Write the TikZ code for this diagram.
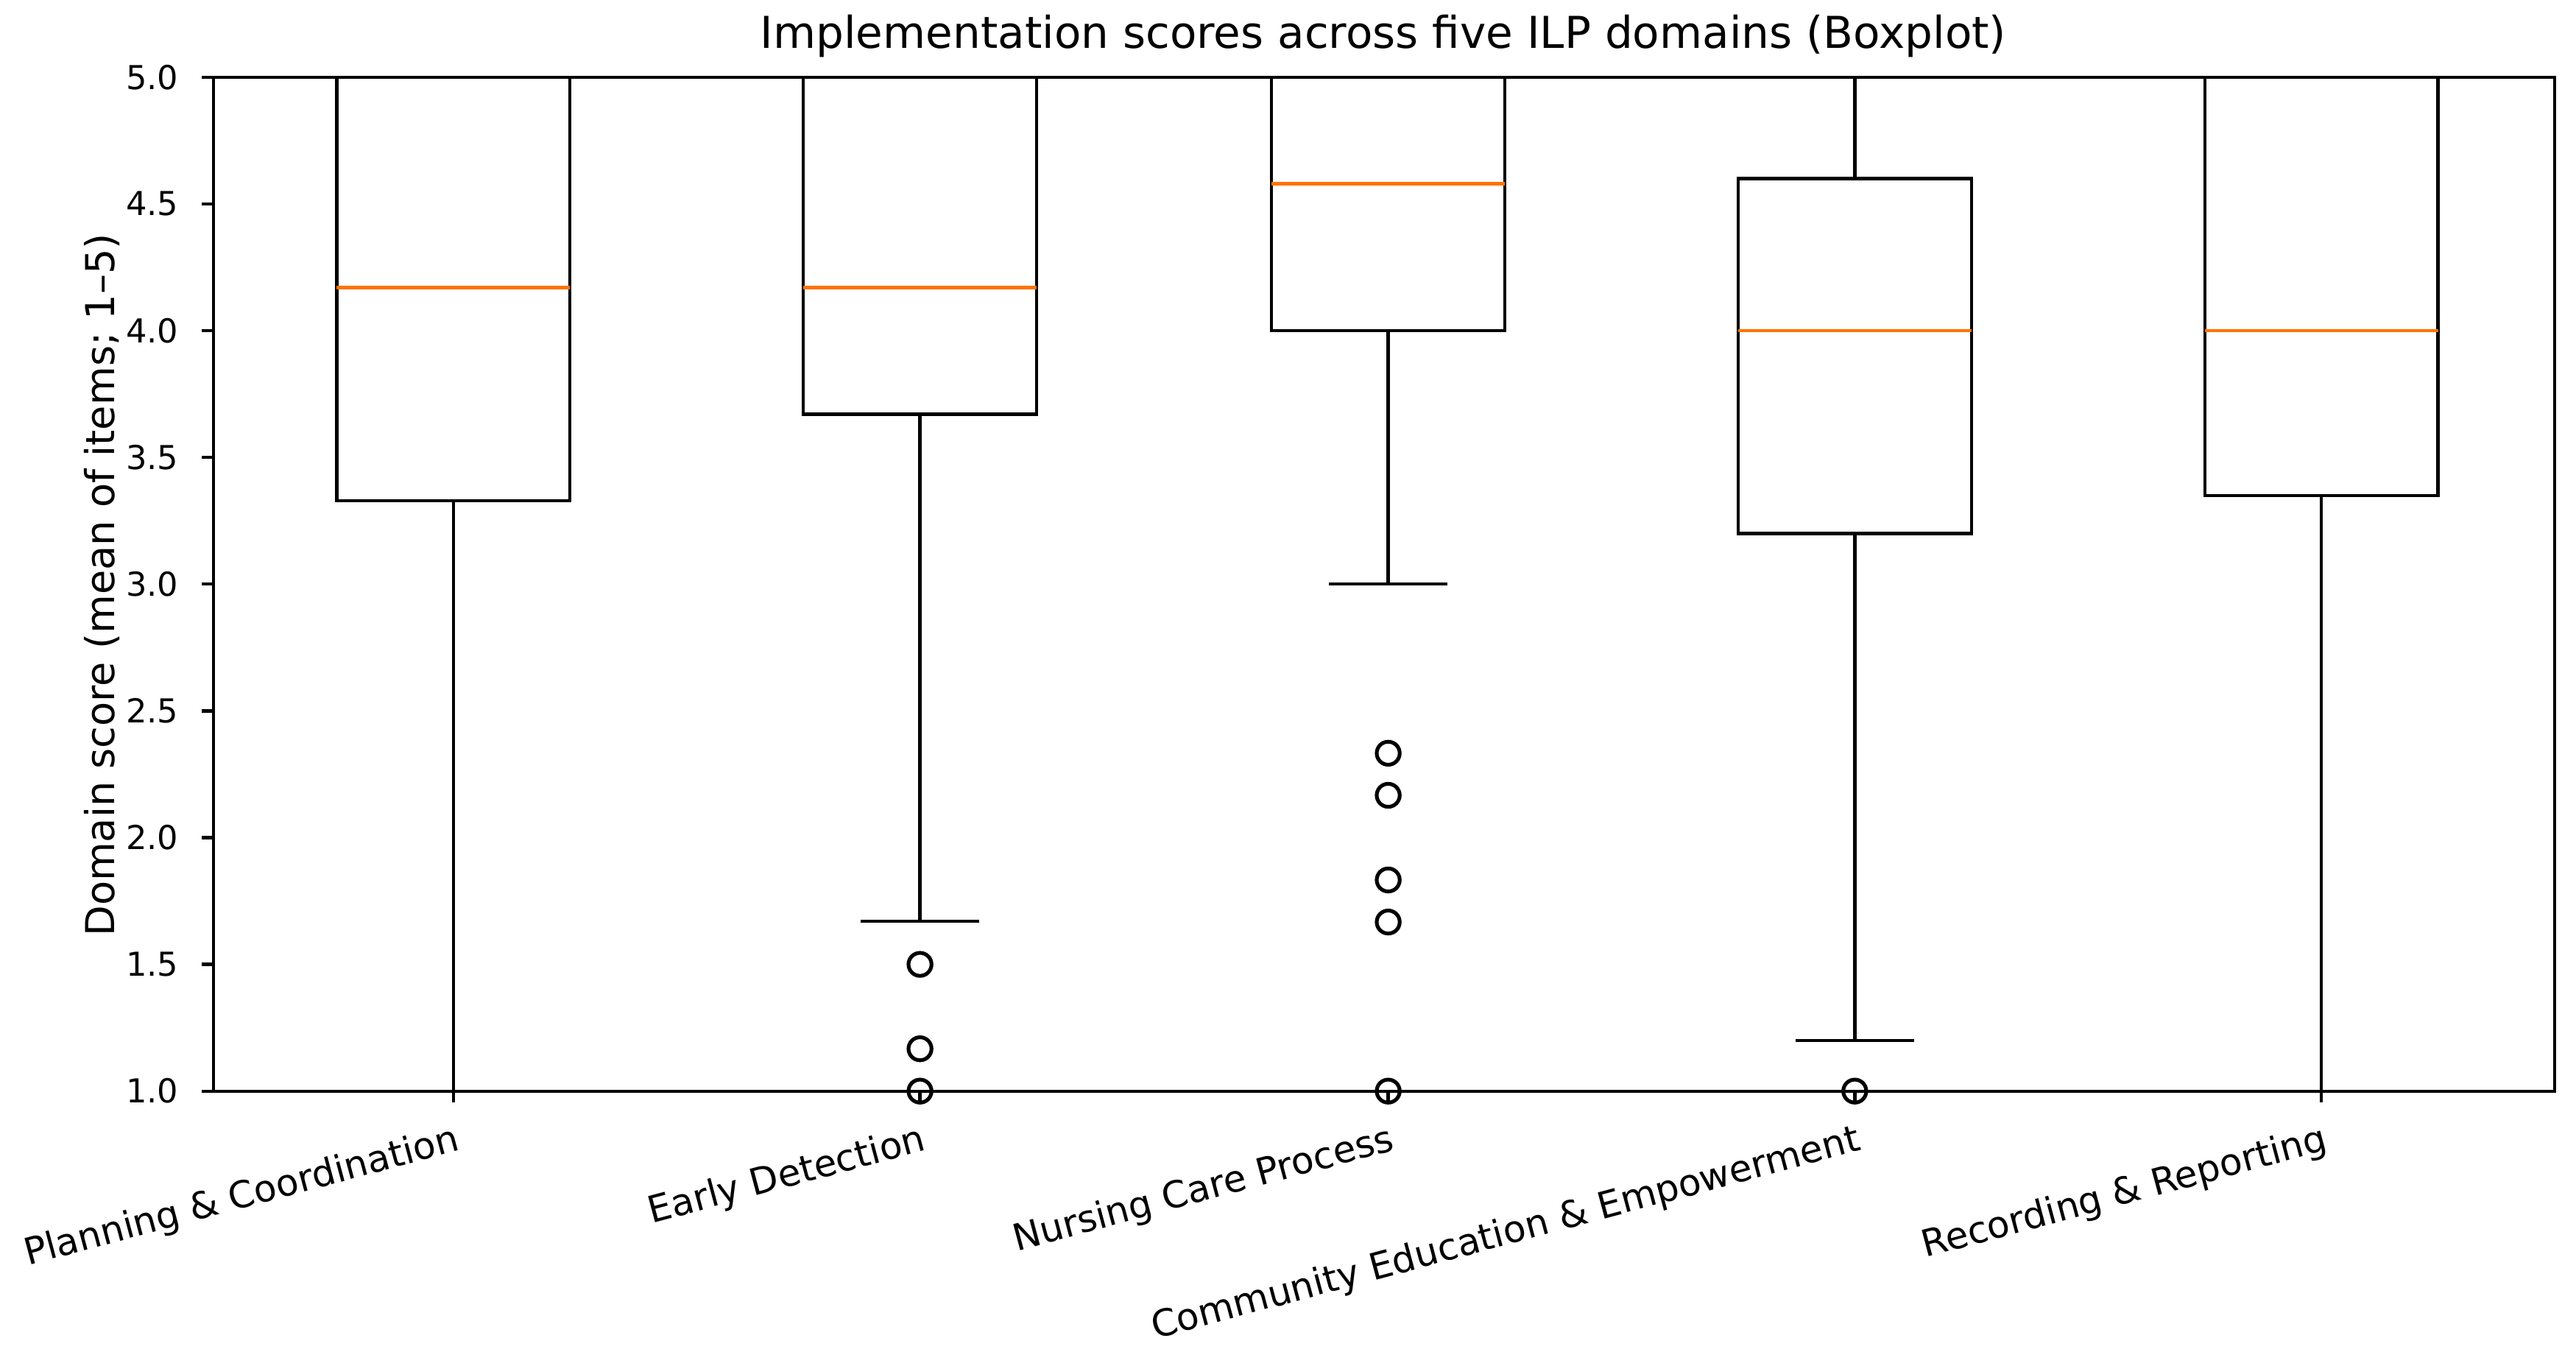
\documentclass[tikz,border=0pt]{standalone}
\usepackage{fontspec}
\setmainfont{DejaVu Sans}
\begin{document}
\begin{tikzpicture}[x=0.01cm,y=-0.01cm,
  bx/.style={draw=black,line width=0.55pt},
  med/.style={draw=orange!90!red,line width=0.6pt},
  wh/.style={draw=black,line width=0.55pt},
  tl/.style={font=\fontsize{6.4pt}{7.5pt}\selectfont},
  tk/.style={font=\fontsize{5.7pt}{7pt}\selectfont}]
\useasboundingbox (0,0) rectangle (1568,831);
\def\Y#1{664-(#1-1)*154.25}
\node[font=\fontsize{7.6pt}{9pt}\selectfont] (title) at (842,22) {Implementation scores across five ILP domains (Boxplot)};
\node[font=\fontsize{6.9pt}{8pt}\selectfont,rotate=90] (ylab) at (62,356) {Domain score (mean of items; 1–5)};
\foreach \v in {1.0,1.5,2.0,2.5,3.0,3.5,4.0,4.5,5.0}{
  \draw[wh] (130,{\Y{\v}}) -- (123,{\Y{\v}});
  \node[tk,anchor=east] at (121,{\Y{\v}}) {\v};
}
\newcommand\mybox[6]{%
  \draw[wh] (#1,{\Y{#5}}) -- (#1,{\Y{#2}});
  \draw[wh] (#1,{\Y{#3}}) -- (#1,{\Y{#6}});
  \draw[wh] (#1-36,{\Y{#5}}) -- (#1+36,{\Y{#5}});
  \draw[wh] (#1-36,{\Y{#6}}) -- (#1+36,{\Y{#6}});
  \draw[bx] (#1-71,{\Y{#2}}) rectangle (#1+71,{\Y{#3}});
  \draw[med] (#1-71,{\Y{#4}}) -- (#1+71,{\Y{#4}});
  \draw[wh] (#1,664) -- (#1,671);
}
\mybox{276}{3.33}{5}{4.17}{1}{5}
\mybox{560}{3.67}{5}{4.17}{1.67}{5}
\mybox{845}{4.0}{5}{4.58}{3.0}{5}
\mybox{1129}{3.2}{4.6}{4.0}{1.2}{5}
\mybox{1413}{3.35}{5}{4.0}{1}{5}
\foreach \c/\v in {560/1.5,560/1.167,560/1.0,845/2.333,845/2.167,845/1.833,845/1.667,845/1.0,1129/1.0}{
  \draw[line width=0.65pt] (\c,{\Y{\v}}) circle (7);
}
\draw[line width=0.55pt] (130,47) rectangle (1555,664);
\foreach \c/\t in {276/Planning \& Coordination,560/Early Detection,845/Nursing Care Process,1129/Community Education \& Empowerment,1413/Recording \& Reporting}{
  \node[tl,rotate=15,anchor=north east,inner sep=1pt] at (\c+3,678) {\t};
}
\end{tikzpicture}
\end{document}
